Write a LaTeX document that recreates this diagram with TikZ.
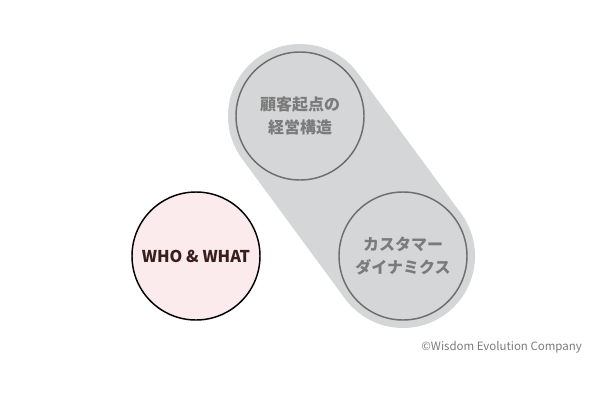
\documentclass[tikz,border=0pt]{standalone}
\usepackage{fontspec}
\usepackage[]{xcolor}
\setmainfont{Noto Sans CJK JP}
\definecolor{capsulegray}{HTML}{D5D6D8}
\definecolor{ringgray}{HTML}{6E6E6E}
\definecolor{textgray}{HTML}{7B7B7B}
\definecolor{whopink}{HTML}{FCEBED}
\definecolor{whotext}{HTML}{3A1E1E}

\begin{document}
\begin{tikzpicture}[
            x=0.75pt, y=-0.75pt,
            stage/.style={circle, draw=ringgray, line width=1.1pt, minimum size=96pt, inner sep=0pt, text width=80pt, align=center, font=\bfseries\fontsize{12}{17}\selectfont, text=textgray},
            who/.style={circle, draw=black, fill=whopink, line width=1.1pt, minimum size=96pt, inner sep=0pt, align=center, font=\bfseries\fontsize{12.2}{16}\selectfont, text=whotext}
        ]
            \useasboundingbox (0,0) rectangle (600,400);
            \coordinate (top) at (300,116);
            \coordinate (bottom) at (403,256);

            \draw[capsulegray, line width=108pt, line cap=round] (top) -- (bottom);

            \node[stage] (S1) at (top) {顧客起点の\\経営構造};
            \node[stage] (S2) at (bottom) {カスタマー\\ダイナミクス};
            \node[who] (W) at (196,256) {WHO \& WHAT};

            \node[anchor=east, text=textgray, font=\fontsize{8.6}{10}\selectfont, inner sep=0pt] (copy) at (582,347) {©Wisdom Evolution Company};
        \end{tikzpicture}
\end{document}
